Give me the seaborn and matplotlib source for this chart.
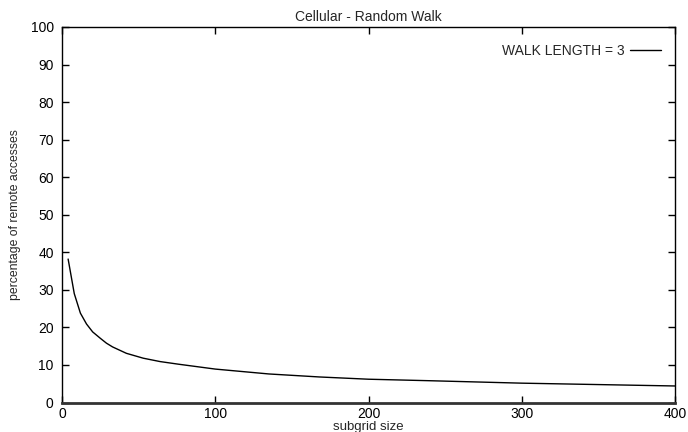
import pandas as pd
import seaborn as sns
import matplotlib.pyplot as plt

# values
subgrid_size = [4, 8, 12, 16, 20, 25, 29, 33, 42, 53, 64, 76, 100, 135, 168, 200, 240, 300, 400]
remote_pct = [38.2, 29.0, 23.8, 20.9, 18.8, 17.1, 15.8, 14.8, 13.1, 11.8, 10.9, 10.2, 8.9, 7.6, 6.8, 6.2, 5.8, 5.15, 4.4]
x_ticks = [0, 100, 200, 300, 400]
y_ticks = [0, 10, 20, 30, 40, 50, 60, 70, 80, 90, 100]

data = pd.DataFrame({"subgrid size": subgrid_size, "remote": remote_pct})

sns.set_style("ticks")
plt.rcParams['font.family'] = ['Liberation Sans', 'DejaVu Sans']

fig = plt.figure(figsize=(6.88, 4.32), dpi=100)
ax = fig.add_axes([62 / 688, 29.5 / 432, 613 / 688, 375.5 / 432])

sns.lineplot(data=data, x="subgrid size", y="remote", color="black", linewidth=1.0,
             label="WALK LENGTH = 3", ax=ax)

ax.set_xlim(0, 400)
ax.set_ylim(0, 100)
ax.set_xticks(x_ticks)
ax.set_yticks(y_ticks)
ax.tick_params(direction="in", length=5, width=1, labelsize=10, top=True, right=True,
               pad=6, colors="black")
ax.tick_params(axis="x", pad=3)
for side in ["left", "right", "top"]:
    ax.spines[side].set_visible(True)
    ax.spines[side].set_linewidth(1.0)
    ax.spines[side].set_color("black")
ax.spines["bottom"].set_linewidth(2.0)
ax.spines["bottom"].set_color("#333333")

ax.set_title("Cellular - Random Walk", fontsize=10, pad=4)
ax.set_xlabel("subgrid size", fontsize=9.5, labelpad=0)
ax.set_ylabel("percentage of remote accesses", fontsize=8.8, labelpad=7)

ax.legend(loc="upper right", frameon=False, markerfirst=False, fontsize=10,
          handlelength=2.2, handletextpad=0.4, borderaxespad=0.4,
          bbox_to_anchor=(0.995, 0.985))

fig.savefig("out.png", dpi=100)
